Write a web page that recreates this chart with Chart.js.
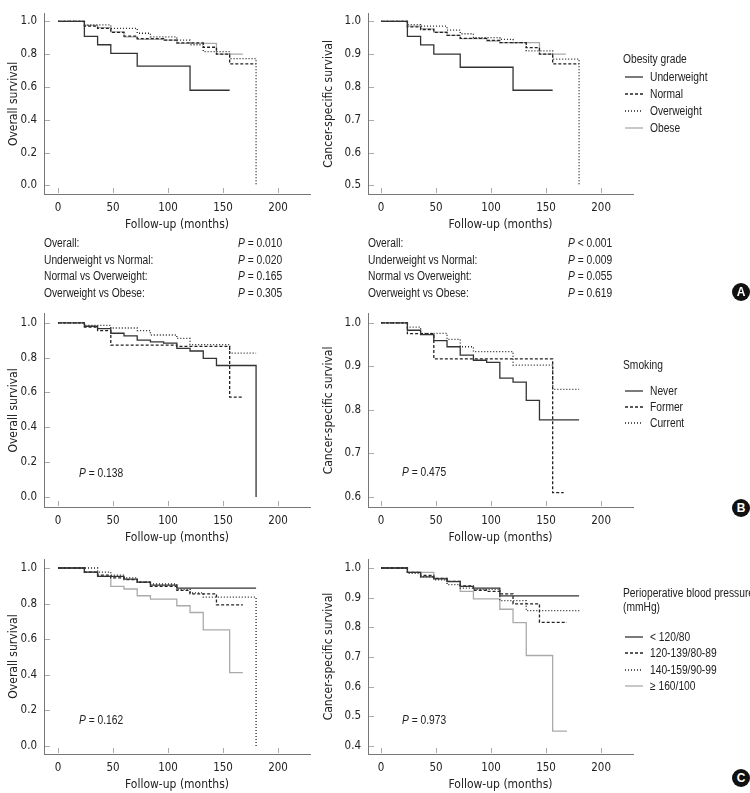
<!DOCTYPE html>
<html>
<head>
<meta charset="utf-8">
<script src="https://cdn.jsdelivr.net/npm/chart.js@4.4.0/dist/chart.umd.min.js"></script>
<style>
html, body { margin: 0; padding: 0; background: #fff; overflow: hidden; }
#fig { position: relative; width: 750px; height: 793px; overflow: hidden;
       font-family: 'Liberation Sans', Arial, sans-serif; color: #222; }
canvas { position: absolute; }
.t { position: absolute; white-space: nowrap; font-size: 12.5px; line-height: 14px;
     transform: translateY(-50%) scaleX(0.82); transform-origin: left center; }
.badge { position: absolute; width: 18px; height: 18px; border-radius: 50%; background: #111; color: #fff;
         font: bold 12px 'Liberation Sans', Arial, sans-serif; text-align: center; line-height: 18px; transform: translate(-50%, -50%); }
svg.key { position: absolute; }
</style>
</head>
<body>
<div id="fig"></div>
<script>
// tick labels
const xTicks = [0, 50, 100, 150, 200];
const osTicks = [0, 0.2, 0.4, 0.6, 0.8, 1.0];
const cssTicksA = [0.5, 0.6, 0.7, 0.8, 0.9, 1.0];
const cssTicksB = [0.6, 0.7, 0.8, 0.9, 1.0];
const cssTicksC = [0.4, 0.5, 0.6, 0.7, 0.8, 0.9, 1.0];

// groups
const obesityGroups = ['Underweight', 'Normal', 'Overweight', 'Obese'];
const smokingGroups = ['Never', 'Former', 'Current'];
const bpGroups = ['< 120/80', '120-139/80-89', '140-159/90-99', '\u2265 160/100'];

// Kaplan-Meier curves: [month, survival]
// A - obesity, overall survival
const osUnder = [[0,1],[24,0.908],[36,0.857],[48,0.804],[72,0.727],[120,0.58],[156,0.58]];
const osNormal = [[0,1],[24,0.97],[36,0.957],[48,0.933],[60,0.91],[72,0.895],[96,0.885],[108,0.868],[132,0.842],[144,0.80],[156,0.74],[180,0.74]];
const osOver = [[0,1],[24,0.978],[48,0.957],[72,0.927],[84,0.905],[108,0.885],[120,0.857],[132,0.815],[156,0.772],[180,0]];
const osObese = [[0,1],[24,0.975],[36,0.962],[48,0.935],[60,0.905],[72,0.89],[96,0.885],[108,0.866],[144,0.80],[168,0.80]];
// A - obesity, cancer-specific survival
const cssUnder = [[0,1],[24,0.954],[36,0.928],[48,0.90],[72,0.86],[120,0.79],[156,0.79]];
const cssNormal = [[0,1],[24,0.983],[36,0.975],[48,0.966],[60,0.957],[72,0.948],[96,0.942],[108,0.935],[132,0.92],[144,0.90],[156,0.87],[180,0.87]];
const cssOver = [[0,1],[24,0.99],[36,0.985],[60,0.973],[72,0.962],[84,0.95],[108,0.945],[120,0.935],[132,0.91],[156,0.885],[180,0.5]];
const cssObese = [[0,1],[24,0.985],[36,0.977],[48,0.967],[60,0.957],[72,0.947],[96,0.94],[108,0.935],[144,0.90],[168,0.90]];
// B - smoking, overall survival
const osNever = [[0,1],[24,0.98],[36,0.966],[48,0.94],[60,0.925],[72,0.90],[84,0.89],[96,0.883],[108,0.853],[120,0.838],[132,0.796],[144,0.755],[180,0]];
const osFormer = [[0,1],[24,0.975],[36,0.955],[48,0.872],[108,0.865],[156,0.574],[168,0.574]];
const osCurrent = [[0,1],[24,0.985],[48,0.97],[72,0.955],[84,0.93],[108,0.91],[120,0.875],[156,0.826],[180,0.826]];
// B - smoking, cancer-specific survival
const cssNever = [[0,1],[24,0.983],[36,0.973],[48,0.959],[60,0.945],[72,0.926],[84,0.914],[96,0.909],[108,0.873],[120,0.864],[132,0.822],[144,0.777],[180,0.777]];
const cssFormer = [[0,1],[24,0.975],[48,0.917],[156,0.61],[166,0.61]];
const cssCurrent = [[0,1],[24,0.99],[36,0.976],[60,0.962],[72,0.945],[84,0.934],[120,0.903],[156,0.847],[180,0.847]];
// C - blood pressure, overall survival
const osBp1 = [[0,1],[24,0.977],[36,0.953],[60,0.938],[72,0.921],[84,0.904],[108,0.887],[180,0.887]];
const osBp2 = [[0,1],[24,0.977],[36,0.96],[48,0.945],[60,0.935],[72,0.92],[84,0.897],[108,0.874],[120,0.855],[144,0.793],[168,0.793]];
const osBp3 = [[0,1],[36,0.977],[48,0.96],[60,0.945],[72,0.92],[84,0.91],[108,0.88],[120,0.86],[132,0.836],[180,0]];
const osBp4 = [[0,1],[24,0.977],[36,0.953],[48,0.897],[60,0.882],[72,0.844],[84,0.825],[108,0.788],[120,0.75],[132,0.652],[156,0.412],[168,0.412]];
// C - blood pressure, cancer-specific survival
const cssBp1 = [[0,1],[24,0.985],[36,0.97],[48,0.963],[60,0.954],[72,0.938],[84,0.932],[108,0.906],[180,0.906]];
const cssBp2 = [[0,1],[24,0.985],[36,0.975],[48,0.965],[60,0.955],[72,0.94],[84,0.925],[96,0.921],[108,0.913],[120,0.879],[144,0.817],[169,0.817]];
const cssBp3 = [[0,1],[24,0.982],[36,0.97],[48,0.96],[60,0.944],[72,0.932],[84,0.928],[108,0.89],[132,0.856],[182,0.856]];
const cssBp4 = [[0,1],[24,0.985],[48,0.965],[60,0.955],[72,0.921],[84,0.896],[108,0.861],[120,0.816],[132,0.705],[156,0.45],[169,0.45]];

// P values
const pRowsA = ['Overall:', 'Underweight vs Normal:', 'Normal vs Overweight:', 'Overweight vs Obese:'];
const pOsA = ['= 0.010', '= 0.020', '= 0.165', '= 0.305'];
const pCssA = ['< 0.001', '= 0.009', '= 0.055', '= 0.619'];

const FONT = "'DejaVu Sans Condensed', 'Liberation Sans', Arial, sans-serif";
const lineStyles = [
    { color: '#333', dash: [] },      // solid
    { color: '#222', dash: [3, 2] },  // dashed
    { color: '#222', dash: [1, 2] },  // dotted
    { color: '#aaa', dash: [] }       // light grey
];

const fig = document.getElementById('fig');

// short inward tick marks like the original plots
const inTicks = {
    id: 'inTicks',
    afterDraw(chart) {
        const { ctx, chartArea, scales } = chart;
        ctx.save();
        ctx.strokeStyle = '#aaa';
        ctx.lineWidth = 1;
        scales.x.ticks.forEach(t => {
            const x = Math.round(scales.x.getPixelForValue(t.value)) + 0.5;
            ctx.beginPath(); ctx.moveTo(x, chartArea.bottom - 1); ctx.lineTo(x, chartArea.bottom - 6); ctx.stroke();
        });
        scales.y.ticks.forEach(t => {
            const y = Math.round(scales.y.getPixelForValue(t.value)) + 0.5;
            ctx.beginPath(); ctx.moveTo(chartArea.left + 1, y); ctx.lineTo(chartArea.left + 6, y); ctx.stroke();
        });
        ctx.restore();
    }
};

const makePanel = (p) => {
    const cv = document.createElement('canvas');
    cv.width = p.w; cv.height = p.h;
    cv.style.left = p.left + 'px'; cv.style.top = p.top + 'px';
    fig.appendChild(cv);

    const datasets = p.series.map((s, i) => ({
        label: p.groups[i],
        data: s.map(d => ({ x: d[0], y: d[1] })),
        borderColor: lineStyles[i].color,
        borderDash: lineStyles[i].dash,
        borderWidth: 1.3,
        pointRadius: 0,
        stepped: true,
        fill: false
    }));

    new Chart(cv, {
        type: 'line',
        data: { datasets },
        options: {
            responsive: false,
            animation: false,
            layout: { padding: { top: p.padTop, right: p.padRight, left: 0, bottom: 0 } },
            plugins: { legend: { display: false }, tooltip: { enabled: false } },
            scales: {
                x: {
                    type: 'linear', min: p.xMin, max: 229,
                    afterBuildTicks: s => { s.ticks = xTicks.map(v => ({ value: v })); },
                    afterFit: s => { s.height = 46; },
                    grid: { display: false, drawTicks: false },
                    border: { display: true, color: '#777', width: 1 },
                    ticks: { padding: 7, color: '#222', font: { family: FONT, size: 11.5 } },
                    title: { display: true, text: 'Follow-up (months)', color: '#222',
                             font: { family: FONT, size: 12 }, padding: { top: 0, bottom: 8 } }
                },
                y: {
                    type: 'linear', min: p.yMin, max: p.yMax,
                    afterBuildTicks: s => { s.ticks = p.yTicks.map(v => ({ value: v })); },
                    afterFit: s => { s.width = p.yW; },
                    grid: { display: false, drawTicks: false },
                    border: { display: true, color: '#777', width: 1 },
                    ticks: { padding: 7, color: '#222', font: { family: FONT, size: 11.5 },
                             callback: v => Number(v).toFixed(1) },
                    title: { display: true, text: p.yTitle, color: '#222',
                             font: { family: FONT, size: 12 }, padding: { top: p.yTitlePad, bottom: 0 } }
                }
            }
        },
        plugins: [inTicks]
    });
};

const leftCol = { left: 0, w: 320, padRight: 10, yW: 44, yTitle: 'Overall survival', yTitlePad: 7, xMin: -12.7 };
const rightCol = { left: 300, w: 340, padRight: 7, yW: 68, yTitle: 'Cancer-specific survival', yTitlePad: 22, xMin: -11.8 };
const rowA = { top: 0, h: 240, padTop: 1 };
const rowB = { top: 300, h: 253, padTop: 12 };
const rowC = { top: 540, h: 260, padTop: 19 };

makePanel({ ...leftCol, ...rowA, yMin: -0.052, yMax: 1.045, yTicks: osTicks, groups: obesityGroups,
            series: [osUnder, osNormal, osOver, osObese] });
makePanel({ ...rightCol, ...rowA, yMin: 0.474, yMax: 1.0225, yTicks: cssTicksA, groups: obesityGroups,
            series: [cssUnder, cssNormal, cssOver, cssObese] });
makePanel({ ...leftCol, ...rowB, yMin: -0.057, yMax: 1.051, yTicks: osTicks, groups: smokingGroups,
            series: [osNever, osFormer, osCurrent] });
makePanel({ ...rightCol, ...rowB, yMin: 0.577, yMax: 1.0205, yTicks: cssTicksB, groups: smokingGroups,
            series: [cssNever, cssFormer, cssCurrent] });
makePanel({ ...leftCol, ...rowC, yMin: -0.045, yMax: 1.0506, yTicks: osTicks, groups: bpGroups,
            series: [osBp1, osBp2, osBp3, osBp4] });
makePanel({ ...rightCol, ...rowC, yMin: 0.373, yMax: 1.0303, yTicks: cssTicksC, groups: bpGroups,
            series: [cssBp1, cssBp2, cssBp3, cssBp4] });

// text helpers
const addText = (html, x, y) => {
    const d = document.createElement('div');
    d.className = 't';
    d.innerHTML = html;
    d.style.left = x + 'px'; d.style.top = y + 'px';
    fig.appendChild(d);
};

const addLegend = (titles, titleY, groups, itemY, step) => {
    titles.forEach((t, i) => addText(t, 623, titleY + i * 14));
    groups.forEach((g, i) => {
        const y = itemY + i * step;
        const st = lineStyles[i];
        const svg = document.createElementNS('http://www.w3.org/2000/svg', 'svg');
        svg.setAttribute('class', 'key');
        svg.setAttribute('width', 20); svg.setAttribute('height', 4);
        svg.style.left = '624px'; svg.style.top = (y - 2) + 'px';
        svg.innerHTML = `<line x1="1" y1="2" x2="19" y2="2" stroke="${st.color}" stroke-width="1.3" stroke-dasharray="${st.dash.join(',') || 'none'}"/>`;
        fig.appendChild(svg);
        addText(g, 650, y);
    });
};

addLegend(['Obesity grade'], 59, obesityGroups, 77, 17);
addLegend(['Smoking'], 365, smokingGroups, 391, 16);
addLegend(['Perioperative blood pressure', '(mmHg)'], 593, bpGroups, 637, 16.3);

// P value table for panel A
pRowsA.forEach((r, i) => {
    const y = 243 + i * 16.5;
    addText(r, 44, y);
    addText('<i>P</i> ' + pOsA[i], 238, y);
    addText(r, 368, y);
    addText('<i>P</i> ' + pCssA[i], 568, y);
});
addText('<i>P</i> = 0.138', 79, 473);
addText('<i>P</i> = 0.475', 402, 472);
addText('<i>P</i> = 0.162', 79, 720);
addText('<i>P</i> = 0.973', 402, 720);

// panel badges
[['A', 292], ['B', 508], ['C', 778]].forEach(([l, y]) => {
    const b = document.createElement('div');
    b.className = 'badge';
    b.textContent = l;
    b.style.left = '741px'; b.style.top = y + 'px';
    fig.appendChild(b);
});
</script>
</body>
</html>
